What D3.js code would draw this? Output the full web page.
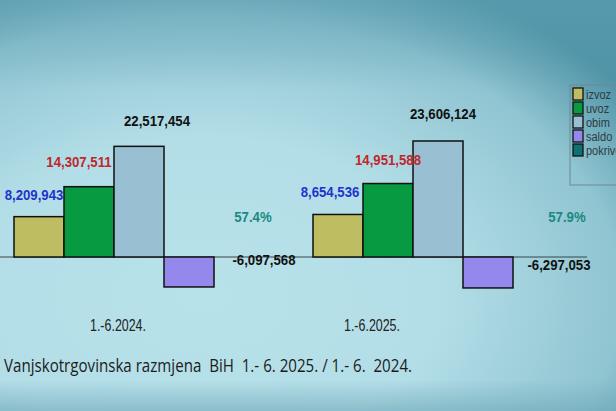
<!DOCTYPE html>
<head>
<meta charset="utf-8">
<style>
body { margin: 0; }
text { font-family: "Liberation Sans", Arial, sans-serif; }
.val { font-weight: bold; font-size: 15px; }
.leg { font-size: 12.5px; fill: #2f3a40; }
</style>
</head>
<body>
<script src="https://cdn.jsdelivr.net/npm/d3@7"></script>
<script>

// data (values in thousands KM, coverage in %)
var periods = ["1.-6.2024.", "1.-6.2025."];
var series = ["izvoz", "uvoz", "obim", "saldo", "pokrivenost"];
var legendNames = ["izvoz", "uvoz", "obim", "saldo", "pokrive"];
var izvoz = [8209943, 8654536];
var uvoz = [14307511, 14951588];
var obim = [22517454, 23606124];
var saldo = [-6097568, -6297053];
var pokrivenost = [57.4, 57.9];
var title = "Vanjskotrgovinska razmjena  BiH  1.- 6. 2025. / 1.- 6.  2024.";

var values = [izvoz, uvoz, obim, saldo, pokrivenost];

var width = 616, height = 411;
var colors = ["#bfbd62", "#079a40", "#99bfd2", "#9488ec", "#0d7273"];
var labelColors = ["#2233cc", "#c0272d", "#111", "#111", "#1a8a80"];

// label offsets per series: dx for each period, dy from bar end (saldo, pokrivenost: from zero)
var labelShift = [
  {dx: [-5, -8], dy: [-17, -17]},
  {dx: [-10, 0], dy: [-20, -19]},
  {dx: [18, 5], dy: [-20, -22]},
  {dx: [75, 71], dy: [8, 13]},
  {dx: [14, 29], dy: [-35, -35]}
];

var svg = d3.select("body").append("svg")
    .attr("width", width)
    .attr("height", height);

// background
var defs = svg.append("defs");
var rg = defs.append("radialGradient")
    .attr("id", "bg")
    .attr("cx", "0.33").attr("cy", "0.72").attr("r", "0.85");
rg.append("stop").attr("offset", "0%").attr("stop-color", "#b8e2ea");
rg.append("stop").attr("offset", "45%").attr("stop-color", "#b3dee7");
rg.append("stop").attr("offset", "80%").attr("stop-color", "#8fc4d1");
rg.append("stop").attr("offset", "100%").attr("stop-color", "#4f93a6");
svg.append("rect").attr("width", width).attr("height", height).attr("fill", "url(#bg)");

var tg = defs.append("linearGradient").attr("id", "top")
    .attr("x1", 0).attr("y1", 0).attr("x2", 0).attr("y2", 1);
tg.append("stop").attr("offset", "0%").attr("stop-color", "#5d9fb2").attr("stop-opacity", 0.55);
tg.append("stop").attr("offset", "100%").attr("stop-color", "#5d9fb2").attr("stop-opacity", 0);
svg.append("rect").attr("width", width).attr("height", 90).attr("fill", "url(#top)");

var lg = defs.append("linearGradient").attr("id", "bot")
    .attr("x1", 0).attr("y1", 0).attr("x2", 0).attr("y2", 1);
lg.append("stop").attr("offset", "0%").attr("stop-color", "#6fa8b8").attr("stop-opacity", 0);
lg.append("stop").attr("offset", "100%").attr("stop-color", "#6fa8b8").attr("stop-opacity", 0.6);
svg.append("rect").attr("y", 380).attr("width", width).attr("height", 31).attr("fill", "url(#bot)");

// scales
var x0 = d3.scaleBand().domain(periods).range([14, 612]);
var x1 = d3.scaleBand().domain(series).range([0, 250]);
var y = d3.scaleLinear().domain([0, 23606124]).range([257, 141]);

// zero axis line
svg.append("line")
    .attr("x1", 0).attr("x2", 587)
    .attr("y1", y(0)).attr("y2", y(0))
    .attr("stroke", "#3a4448").attr("stroke-width", 1.2);

var rows = [];
periods.forEach(function(p, i) {
  series.forEach(function(s, j) {
    rows.push({period: p, pi: i, series: s, si: j, value: values[j][i]});
  });
});

svg.append("g").selectAll("rect")
    .data(rows.filter(function(d) { return Math.abs(y(d.value) - y(0)) > 1; }))
    .enter().append("rect")
    .attr("x", function(d) { return x0(d.period) + x1(d.series); })
    .attr("y", function(d) { return Math.min(y(d.value), y(0)); })
    .attr("width", x1.bandwidth())
    .attr("height", function(d) { return Math.abs(y(d.value) - y(0)); })
    .attr("fill", function(d) { return colors[d.si]; })
    .attr("stroke", "#111")
    .attr("stroke-width", 1.5);

var fmt = d3.format(",");
svg.append("g").selectAll("text")
    .data(rows)
    .enter().append("text")
    .attr("class", "val")
    .attr("text-anchor", "middle")
    .attr("x", function(d) {
      return x0(d.period) + x1(d.series) + x1.bandwidth() / 2 + labelShift[d.si].dx[d.pi];
    })
    .attr("y", function(d) {
      var end = d.si >= 3 ? y(0) : y(d.value);
      return end + labelShift[d.si].dy[d.pi];
    })
    .attr("fill", function(d) { return labelColors[d.si]; })
    .text(function(d) {
      if (d.series == "pokrivenost") return d.value.toFixed(1) + "%";
      return fmt(d.value).replace("\u2212", "-");
    })
    .each(function() {
      // narrow the bold figures a little, like the original
      var w = this.getComputedTextLength();
      d3.select(this).attr("textLength", w * 0.88).attr("lengthAdjust", "spacingAndGlyphs");
    });

// category labels
var catX = [118, 372];
svg.append("g").selectAll("text")
    .data(periods)
    .enter().append("text")
    .attr("x", function(d, i) { return catX[i] - 28; })
    .attr("y", 331)
    .attr("textLength", 56)
    .attr("lengthAdjust", "spacingAndGlyphs")
    .style("font-size", "16px")
    .attr("fill", "#222")
    .text(function(d) { return d; });

// legend
var legend = svg.append("g").attr("transform", "translate(570,85)");
legend.append("rect")
    .attr("width", 60).attr("height", 100)
    .attr("fill", "none").attr("stroke", "#6f8990").attr("stroke-width", 1);
var item = legend.selectAll(".item")
    .data(legendNames)
    .enter().append("g")
    .attr("transform", function(d, i) { return "translate(3," + (3 + i * 14) + ")"; });
item.append("rect")
    .attr("width", 10).attr("height", 12)
    .attr("fill", function(d, i) { return colors[i]; })
    .attr("stroke", "#111").attr("stroke-width", 1.3);
item.append("text")
    .attr("class", "leg")
    .attr("x", 13).attr("y", 10.5)
    .text(function(d) { return d; })
    .each(function() {
      var w = this.getComputedTextLength();
      d3.select(this).attr("textLength", w * 0.88).attr("lengthAdjust", "spacingAndGlyphs");
    });

// title
svg.append("text")
    .attr("x", 4).attr("y", 372)
    .attr("textLength", 408)
    .attr("lengthAdjust", "spacingAndGlyphs")
    .style("white-space", "pre")
    .style("font-family", "'Open Sans', sans-serif")
    .style("font-size", "18px")
    .attr("fill", "#1c1c1c")
    .text(title);

</script>
</body>
</html>
